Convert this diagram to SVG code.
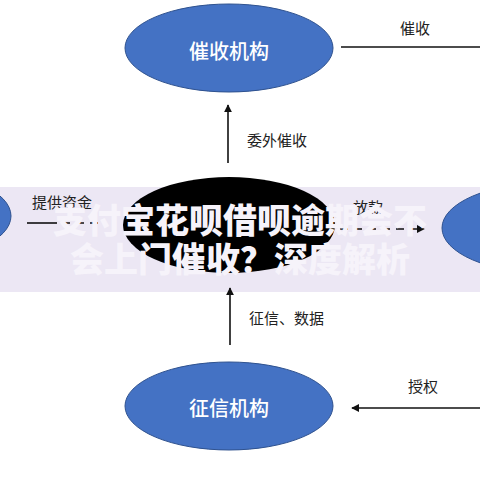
<svg xmlns="http://www.w3.org/2000/svg" width="480" height="480" viewBox="0 0 480 480">
  <defs>
    <marker id="arr" viewBox="0 0 10 10" refX="9" refY="5" markerWidth="8" markerHeight="8" markerUnits="userSpaceOnUse" orient="auto">
      <path d="M0,0 L10,5 L0,10 z" fill="#111"/>
    </marker>
    <style>
      .blue { fill: #4472C4; stroke: #2F528F; stroke-width: 1; }
      .nodeText { font-family: "Noto Sans CJK SC", "Noto Sans", sans-serif; font-size: 20px; font-weight: 500; fill: #FFFFFF; text-anchor: middle; dominant-baseline: central; }
      .lbl { font-family: "Noto Sans CJK SC", "Noto Sans", sans-serif; font-size: 15px; fill: #222; dominant-baseline: central; }
      .line { stroke: #111; stroke-width: 1.6; fill: none; }
      .dash { stroke: #111; stroke-width: 1.6; fill: none; stroke-dasharray: 8 6; }
      .title { font-family: "Noto Sans CJK SC", "Noto Sans", sans-serif; font-size: 34px; font-weight: 900; fill: #F6F3FA; text-anchor: middle; }
    </style>
  </defs>
  <rect x="0" y="0" width="480" height="480" fill="#FFFFFF"/>
  <rect id="banner" x="0" y="187" width="480" height="105" fill="#ECE7F4"/>

  <g id="connectors">
    <line class="line" x1="341" y1="47" x2="480" y2="47"/>
    <line class="line" x1="228" y1="163" x2="228" y2="105" marker-end="url(#arr)"/>
    <line class="line" x1="27" y1="223" x2="57" y2="223"/>
    <line class="dash" x1="62" y1="223" x2="100" y2="223"/>
    <line class="dash" x1="340" y1="229" x2="424" y2="229" marker-end="url(#arr)"/>
    <line class="line" x1="230" y1="345" x2="230" y2="288" marker-end="url(#arr)"/>
    <line class="line" x1="480" y1="408" x2="352" y2="408" marker-end="url(#arr)"/>
    <text class="lbl" x="400" y="27">催收</text>
    <text class="lbl" x="247" y="139">委外催收</text>
    <text class="lbl" x="32" y="201">提供资金</text>
    <text class="lbl" x="353" y="206">放款</text>
    <text class="lbl" x="249" y="317">征信、数据</text>
    <text class="lbl" x="408" y="385">授权</text>
  </g>

  <g id="node-collection">
    <ellipse class="blue" cx="229" cy="48" rx="104" ry="44"/>
    <text class="nodeText" x="229" y="50">催收机构</text>
  </g>
  <g id="node-left">
    <ellipse class="blue" cx="-94" cy="216" rx="105" ry="45"/>
  </g>
  <g id="node-center">
    <ellipse cx="229" cy="225" rx="106" ry="48" fill="#000000"/>
  </g>
  <g id="node-right">
    <ellipse class="blue" cx="546" cy="228" rx="104" ry="45"/>
  </g>
  <g id="node-credit">
    <ellipse class="blue" cx="229" cy="406" rx="104" ry="44"/>
    <text class="nodeText" x="229" y="407">征信机构</text>
  </g>

  <g id="title">
    <text class="title" x="240" y="233">支付宝花呗借呗逾期会不</text>
    <text class="title" x="240" y="272">会上门催收？深度解析</text>
  </g>
</svg>
